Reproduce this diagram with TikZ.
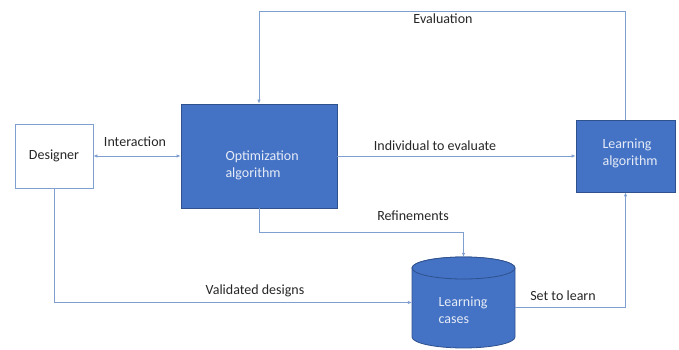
\documentclass[tikz,border=0pt]{standalone}
\usepackage{fontspec}
\setmainfont{Carlito}
\usetikzlibrary{arrows.meta,calc}
\definecolor{boxblue}{HTML}{4472C4}
\definecolor{boxedge}{HTML}{2F528F}
\definecolor{linkblue}{HTML}{7F9FD0}
\definecolor{inktext}{HTML}{262626}
\definecolor{boxtext}{HTML}{E6ECF7}
\begin{document}
\begin{tikzpicture}[x=1pt,y=1pt,
  every node/.style={font=\fontsize{14}{17}\selectfont, text=inktext},
  bluebox/.style={draw=boxedge, fill=boxblue, line width=0.8pt, inner sep=0pt, text=boxtext, align=left},
  whitebox/.style={draw=linkblue, fill=white, line width=0.8pt, inner sep=0pt},
  link/.style={draw=linkblue, line width=0.9pt, -{Latex[length=4pt,width=3.5pt]}},
  lbl/.style={inner sep=1pt}
]
\useasboundingbox (0,0) rectangle (679,350);

% nodes
\node[whitebox, minimum width=78pt, minimum height=64pt] (des) at (54,194) {Designer};
\node[bluebox, minimum width=156pt, minimum height=104pt] (opt) at (259,194) {};
\node[text=boxtext, align=left, anchor=west] at (222,185) {Optimization\\algorithm};
\node[bluebox, minimum width=99pt, minimum height=72pt] (la) at (625.5,194) {};
\node[text=boxtext, align=left, anchor=west] at (599,197) {Learning\\algorithm};

% cylinder
\node[minimum width=103pt, minimum height=91pt, inner sep=0pt] (cyl) at (463.5,47.5) {};
\path[fill=boxblue, draw=boxedge, line width=0.8pt]
  (412,82) -- (412,13) arc[start angle=180, end angle=360, x radius=51.5, y radius=11]
  -- (515,82) arc[start angle=0, end angle=180, x radius=51.5, y radius=11] -- cycle;
\path[fill=boxblue, draw=boxedge, line width=0.8pt] (463.5,82) ellipse[x radius=51.5, y radius=11];
\node[text=boxtext, align=left, anchor=west] at (435,40) {Learning\\cases};

% helper coordinates
\coordinate (evtop) at (0,339);
\coordinate (refy) at (0,118);
\coordinate (setout) at ($(cyl.east)+(0,-5)$);

% connectors
\draw[link, {Latex[length=4pt,width=3.5pt]}-{Latex[length=4pt,width=3.5pt]}] (des.east) -- (opt.west);
\draw[link] (opt.east) -- (la.west);
\draw[link] (la.north) |- (opt.north |- evtop) -- (opt.north);
\draw[link] (opt.south) |- (refy -| cyl.north) -- (cyl.north);
\draw[link] (des.south) |- (cyl.west);
\draw[link] (setout) -| (la.south);

% labels
\node[lbl] at (135,208) {Interaction};
\node[lbl] at (435,204) {Individual to evaluate};
\node[lbl] at (443,331) {Evaluation};
\node[lbl] at (413,134) {Refinements};
\node[lbl] at (255,59) {Validated designs};
\node[lbl] at (563,54) {Set to learn};
\end{tikzpicture}
\end{document}
